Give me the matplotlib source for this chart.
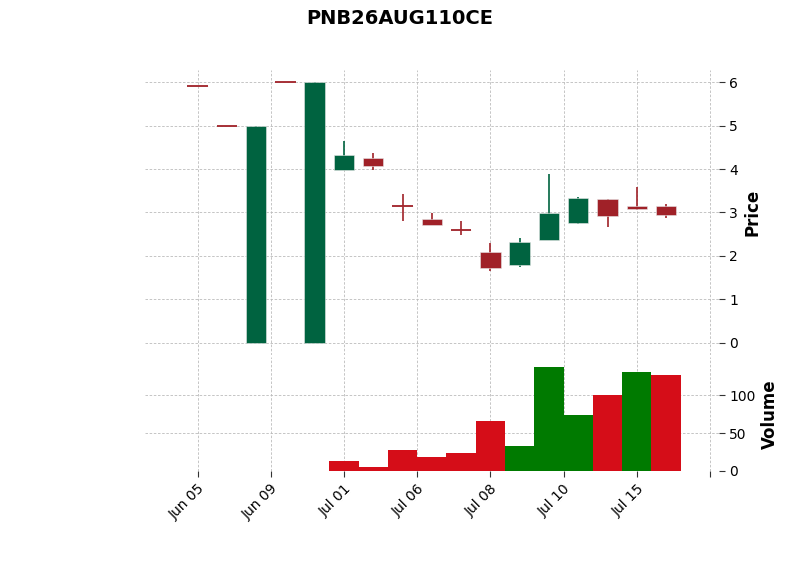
import numpy as np
import pandas as pd
import matplotlib
matplotlib.use('Agg')
import matplotlib.pyplot as plt
from matplotlib.ticker import MultipleLocator, FuncFormatter

title = 'PNB26AUG110CE'

# daily data
dates = pd.to_datetime(['2026-06-05', '2026-06-08', '2026-06-09', '2026-06-10', '2026-06-30',
                        '2026-07-01', '2026-07-02', '2026-07-03', '2026-07-06', '2026-07-07',
                        '2026-07-08', '2026-07-09', '2026-07-10', '2026-07-13', '2026-07-14',
                        '2026-07-15', '2026-07-16'])
opens = [5.9, 5.0, 0.0, 6.0, 0.0, 3.98, 4.26, 3.15, 2.85, 2.59, 2.09, 1.79, 2.37, 2.76, 3.30, 3.16, 3.16]
highs = [5.9, 5.0, 5.0, 6.0, 6.0, 4.64, 4.38, 3.42, 2.98, 2.80, 2.29, 2.41, 3.88, 3.36, 3.30, 3.58, 3.20]
lows = [5.9, 5.0, 0.0, 6.0, 0.0, 3.98, 3.97, 2.80, 2.72, 2.48, 1.66, 1.74, 2.37, 2.73, 2.66, 3.06, 2.87]
closes = [5.9, 5.0, 5.0, 6.0, 6.0, 4.32, 4.07, 3.15, 2.72, 2.59, 1.72, 2.33, 2.99, 3.34, 2.93, 3.07, 2.95]
volumes = [np.nan, np.nan, np.nan, np.nan, np.nan, 13, 5, 27, 19, 24, 66, 33, 137, 74, 100, 130, 126]

up_col, down_col = '#006340', '#a02128'
vol_up, vol_down = '#007a00', '#d50d18'
grid_kw = dict(color='#bbbbbb', linestyle=(0, (3, 2)), linewidth=0.6)

x = np.arange(len(dates))
o = np.array(opens); h = np.array(highs); l = np.array(lows); c = np.array(closes)

fig = plt.figure(figsize=(8, 5.75), dpi=100)
ax = fig.add_axes([0.181, 0.3826, 0.7175, 0.4957])
axv = fig.add_axes([0.181, 0.1809, 0.7175, 0.198], sharex=ax)

cols = [up_col if cc > oo else down_col for oo, cc in zip(o, c)]
ax.vlines(x, l, h, colors=cols, linewidth=1.2, zorder=2)
body = np.abs(c - o)
ax.bar(x, body, width=0.7, bottom=np.minimum(o, c), color=cols,
       edgecolor='#e6e6e6', linewidth=0.4, zorder=3)
doji = body == 0
ax.hlines(c[doji], x[doji] - 0.35, x[doji] + 0.35, colors=np.array(cols)[doji], linewidth=1.3, zorder=3)

prev = np.r_[c[0], c[:-1]]
vcols = [vol_up if cc > pc else vol_down for cc, pc in zip(c, prev)]
axv.bar(x, volumes, width=1.0, color=vcols, zorder=3)

for a in (ax, axv):
    a.grid(True, **grid_kw)
    a.set_axisbelow(True)
    for s in a.spines.values():
        s.set_visible(False)
    a.yaxis.tick_right()
    a.yaxis.set_label_position('right')
    a.tick_params(axis='y', labelsize=10, length=4, color='#333333')

ax.set_xlim(-1.8, 17.8)
ax.set_ylim(-0.28, 6.28)
axv.set_ylim(0, 150)
ax.set_yticks(range(0, 7))
axv.set_yticks([0, 50, 100])

axv.xaxis.set_major_locator(MultipleLocator(2.5))
def fmt(v, pos):
    i = int(round(v))
    if 0 <= i < len(dates):
        return dates[i].strftime('%b %d')
    return ''
axv.xaxis.set_major_formatter(FuncFormatter(fmt))
ax.tick_params(axis='x', bottom=False, labelbottom=False)
axv.tick_params(axis='x', labelsize=10, length=4, color='#333333')
plt.setp(axv.get_xticklabels(), rotation=45, ha='right', rotation_mode='anchor')

ax.set_ylabel('Price', fontsize=12, fontweight='bold')
axv.set_ylabel('Volume', fontsize=12, fontweight='bold')
fig.suptitle(title, fontsize=14, fontweight='bold', y=0.985)

fig.savefig('out.png', dpi=100)
